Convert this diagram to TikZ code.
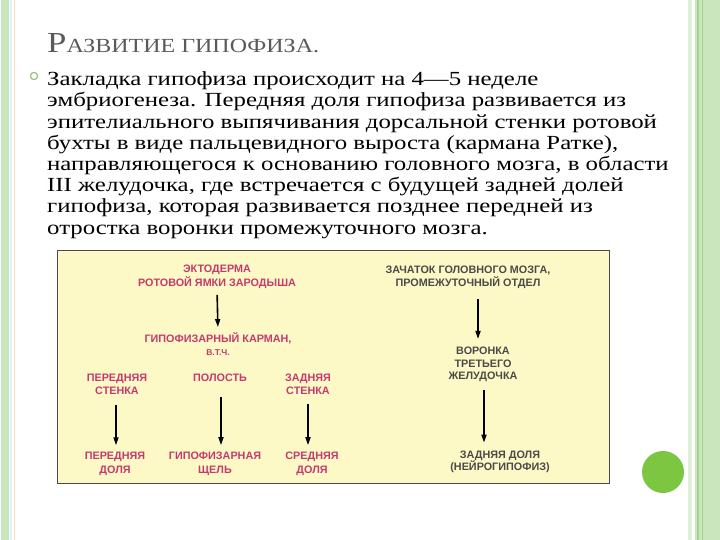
\documentclass[tikz,border=0pt]{standalone}
\usepackage{fontspec}
\setmainfont{Liberation Serif}
\setsansfont{Liberation Sans}
\usetikzlibrary{arrows.meta}
\definecolor{stripgreen}{HTML}{C9E6BC}
\definecolor{stripdark}{HTML}{A3D38E}
\definecolor{dotgreen}{HTML}{7DC642}
\definecolor{boxyellow}{HTML}{FDF9C6}
\definecolor{pinktxt}{HTML}{C53A6E}
\definecolor{graytxt}{HTML}{4A4A4A}
\definecolor{titlegray}{HTML}{5A5A5A}
\tikzset{
  lbl/.style={font=\sffamily\bfseries\fontsize{10.8}{13.5}\selectfont, align=center, inner sep=0pt},
  pinklbl/.style={lbl, text=pinktxt},
  graylbl/.style={lbl, text=graytxt},
  arr/.style={line width=1.6pt, -{Triangle[length=8pt,width=5pt]}},
}
\begin{document}
\begin{tikzpicture}[x=1pt,y=-1pt]
\useasboundingbox (0,0) rectangle (720,540);
\fill[white] (0,0) rectangle (720,540);
% left strip
\fill[stripgreen] (1,0) rectangle (9,540);
\fill[cyan!12] (10,0) rectangle (11.5,540);
\fill[orange!25] (14,0) rectangle (15,540);
% right strip
\fill[stripgreen!60] (688,0) rectangle (692,540);
\fill[stripgreen] (695,0) rectangle (720,540);
\fill[stripdark] (697,0) rectangle (698.5,540);
\fill[stripdark] (701.5,0) rectangle (703,540);
% title
\node[anchor=base west, inner sep=0pt, text=titlegray] (title) at (47,53)
  {\scalebox{1.2}[1]{{\fontsize{29}{29}\selectfont Р}{\fontsize{20}{20}\selectfont АЗВИТИЕ ГИПОФИЗА.}}};
% bullet
\draw[dotgreen!80!black!70, line width=1.1pt] (34,76) circle (3.6);
% body
\node[anchor=base west, inner sep=0pt] (body) at (47,234)
  {\fontsize{20}{21.2}\selectfont\scalebox{1.24}[1]{\begin{tabular}[b]{@{}l@{}}
   Закладка гипофиза происходит на 4—5 неделе\\
   эмбриогенеза. Передняя доля гипофиза развивается из\\
   эпителиального выпячивания дорсальной стенки ротовой\\
   бухты в виде пальцевидного выроста (кармана Ратке),\\
   направляющегося к основанию головного мозга, в области\\
   III желудочка, где встречается с будущей задней долей\\
   гипофиза, которая развивается позднее передней из\\
   отростка воронки промежуточного мозга.
   \end{tabular}}};
% diagram box
\draw[fill=boxyellow, draw=graytxt, line width=0.8pt] (57,250) rectangle (609,483);
% left tree
\node[pinklbl] (ekt) at (217,277) {ЭКТОДЕРМА\\РОТОВОЙ ЯМКИ ЗАРОДЫША};
\node[pinklbl] (karm) at (218,344) {ГИПОФИЗАРНЫЙ КАРМАН,\\{\fontsize{8.5}{10}\selectfont В.Т.Ч.}};
\node[pinklbl] (pst) at (117,384.5) {ПЕРЕДНЯЯ\\СТЕНКА};
\node[pinklbl] (pol) at (220,378) {ПОЛОСТЬ};
\node[pinklbl] (zst) at (308,384.5) {ЗАДНЯЯ\\СТЕНКА};
\node[pinklbl] (pdol) at (115,464) {ПЕРЕДНЯЯ\\ДОЛЯ};
\node[pinklbl] (gsh) at (215,464) {ГИПОФИЗАРНАЯ\\ЩЕЛЬ};
\node[pinklbl] (sdol) at (312,464) {СРЕДНЯЯ\\ДОЛЯ};
% right tree
\node[graylbl] (zach) at (468,277.5) {ЗАЧАТОК ГОЛОВНОГО МОЗГА,\\ПРОМЕЖУТОЧНЫЙ ОТДЕЛ};
\node[graylbl, font=\sffamily\bfseries\fontsize{10.8}{12.5}\selectfont] (vor) at (483,364.5) {ВОРОНКА\\ТРЕТЬЕГО\\ЖЕЛУДОЧКА};
\node[graylbl, font=\sffamily\bfseries\fontsize{10.8}{12.5}\selectfont] (zdol) at (500,462) {ЗАДНЯЯ ДОЛЯ\\(НЕЙРОГИПОФИЗ)};
% arrows
\draw[arr, shorten <=6pt, shorten >=5pt] (ekt.south) -- (karm.north);
\draw[arr, shorten <=10pt, shorten >=7pt] ([xshift=-1pt]pst.south) -- ([xshift=1pt]pdol.north);
\draw[arr, shorten <=15pt, shorten >=7pt] ([xshift=1pt]pol.south) -- ([xshift=6pt]gsh.north);
\draw[arr, shorten <=9pt, shorten >=7pt] (zst.south) -- ([xshift=-4pt]sdol.north);
\draw[arr, shorten <=10pt, shorten >=8pt] ([xshift=10pt]zach.south) -- ([xshift=-5pt]vor.north);
\draw[arr, shorten <=8pt, shorten >=8pt] ([xshift=1pt]vor.south) -- ([xshift=-16pt]zdol.north);
% decoration dot
\fill[dotgreen] (663,472) circle (21);
\end{tikzpicture}
\end{document}
